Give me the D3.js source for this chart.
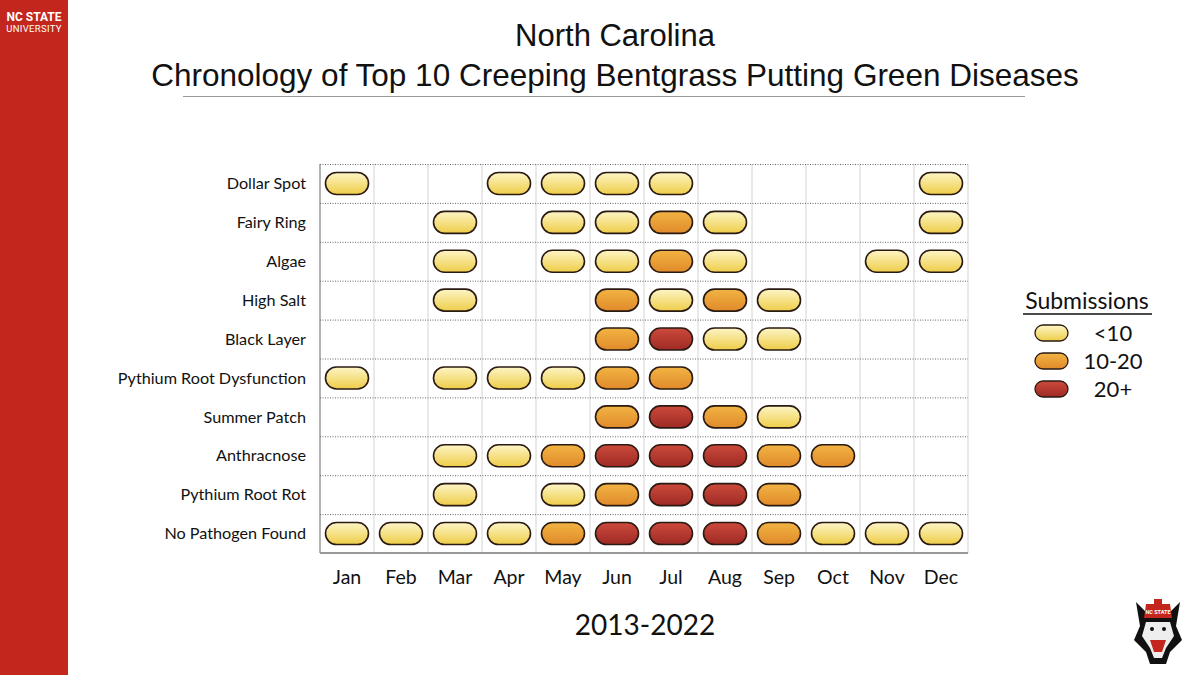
<!DOCTYPE html>
<html>
<head>
<meta charset="utf-8">
<script src="https://cdn.jsdelivr.net/npm/d3@7"></script>
<style>
  html, body { margin: 0; padding: 0; background: #fff; }
  svg { display: block; }
</style>
</head>
<body>
<div id="chart"></div>
<script>
// --------------------------------------
//  Data
// --------------------------------------

const months = ["Jan", "Feb", "Mar", "Apr", "May", "Jun", "Jul", "Aug", "Sep", "Oct", "Nov", "Dec"];

const diseases = ["Dollar Spot", "Fairy Ring", "Algae", "High Salt", "Black Layer",
  "Pythium Root Dysfunction", "Summer Patch", "Anthracnose", "Pythium Root Rot", "No Pathogen Found"];

// 0 = none, 1 = <10, 2 = 10-20, 3 = 20+
const dollarSpot      = [1, 0, 0, 1, 1, 1, 1, 0, 0, 0, 0, 1];
const fairyRing       = [0, 0, 1, 0, 1, 1, 2, 1, 0, 0, 0, 1];
const algae           = [0, 0, 1, 0, 1, 1, 2, 1, 0, 0, 1, 1];
const highSalt        = [0, 0, 1, 0, 0, 2, 1, 2, 1, 0, 0, 0];
const blackLayer      = [0, 0, 0, 0, 0, 2, 3, 1, 1, 0, 0, 0];
const pythiumDysf     = [1, 0, 1, 1, 1, 2, 2, 0, 0, 0, 0, 0];
const summerPatch     = [0, 0, 0, 0, 0, 2, 3, 2, 1, 0, 0, 0];
const anthracnose     = [0, 0, 1, 1, 2, 3, 3, 3, 2, 2, 0, 0];
const pythiumRootRot  = [0, 0, 1, 0, 1, 2, 3, 3, 2, 0, 0, 0];
const noPathogen      = [1, 1, 1, 1, 2, 3, 3, 3, 2, 1, 1, 1];

const levelsByDisease = [dollarSpot, fairyRing, algae, highSalt, blackLayer,
  pythiumDysf, summerPatch, anthracnose, pythiumRootRot, noPathogen];

const legendLabels = ["<10", "10-20", "20+"];

// --------------------------------------
//  Margin and canvas
// --------------------------------------

const width = 1200;
const height = 675;
const margin = {top: 164, right: 232, bottom: 122, left: 320};
const innerWidth = width - margin.left - margin.right;
const innerHeight = height - margin.top - margin.bottom;

const svg = d3.select("#chart")
  .append("svg")
    .attr("width", width)
    .attr("height", height)
    .attr("viewBox", `0 0 ${width} ${height}`);

// gradients for the pills
const defs = svg.append("defs");
const gradStops = [
  ["#fdf5c6", "#eecd48"],
  ["#f2b443", "#e08a2a"],
  ["#cc4a3c", "#9e2a24"]
];
gradStops.forEach((s, i) => {
  const g = defs.append("linearGradient")
      .attr("id", `grad${i + 1}`)
      .attr("x1", 0).attr("y1", 0).attr("x2", 0).attr("y2", 1);
  g.append("stop").attr("offset", "0%").attr("stop-color", s[0]);
  g.append("stop").attr("offset", "100%").attr("stop-color", s[1]);
});

// --------------------------------------
//  Side bar and titles
// --------------------------------------

svg.append("rect")
    .attr("x", 0).attr("y", 0)
    .attr("width", 68).attr("height", height)
    .attr("fill", "#c3261d");

svg.append("text")
    .attr("x", 34).attr("y", 21)
    .attr("text-anchor", "middle")
    .attr("font-family", "Roboto, 'Liberation Sans', sans-serif")
    .attr("font-weight", 700)
    .attr("font-size", 12)
    .attr("fill", "#fff")
    .text("NC STATE");

svg.append("text")
    .attr("x", 34).attr("y", 32)
    .attr("text-anchor", "middle")
    .attr("font-family", "Roboto, 'Liberation Sans', sans-serif")
    .attr("font-size", 9.5)
    .attr("letter-spacing", 0.3)
    .attr("fill", "#fff")
    .text("UNIVERSITY");

svg.append("text")
    .attr("x", 615).attr("y", 46)
    .attr("text-anchor", "middle")
    .attr("font-family", "'Liberation Sans', Arial, sans-serif")
    .attr("font-size", 31)
    .attr("fill", "#111")
    .text("North Carolina");

svg.append("text")
    .attr("x", 615).attr("y", 86)
    .attr("text-anchor", "middle")
    .attr("font-family", "'Liberation Sans', Arial, sans-serif")
    .attr("font-size", 31.5)
    .attr("fill", "#111")
    .text("Chronology of Top 10 Creeping Bentgrass Putting Green Diseases");

svg.append("line")
    .attr("x1", 183).attr("x2", 1025)
    .attr("y1", 96.5).attr("y2", 96.5)
    .attr("stroke", "#999")
    .attr("stroke-width", 1);

// --------------------------------------
//  Scales
// --------------------------------------

const x = d3.scaleBand()
    .domain(months)
    .range([0, innerWidth]);

const y = d3.scaleBand()
    .domain(diseases)
    .range([0, innerHeight]);

const fill = d3.scaleOrdinal()
    .domain([1, 2, 3])
    .range(["url(#grad1)", "url(#grad2)", "url(#grad3)"]);

const innerChart = svg.append("g")
    .attr("transform", `translate(${margin.left}, ${margin.top})`);

// --------------------------------------
//  Grid
// --------------------------------------

// vertical lines
innerChart.append("g")
  .selectAll("line")
  .data(d3.range(months.length + 1))
  .join("line")
    .attr("x1", d => d * x.bandwidth())
    .attr("x2", d => d * x.bandwidth())
    .attr("y1", 0)
    .attr("y2", innerHeight)
    .attr("stroke", d => d === 0 ? "#999" : "#d4d4d4")
    .attr("stroke-width", d => d === 0 ? 1.5 : 1);

// horizontal dotted lines
innerChart.append("g")
  .selectAll("line")
  .data(d3.range(diseases.length))
  .join("line")
    .attr("x1", 0)
    .attr("x2", innerWidth)
    .attr("y1", d => d * y.bandwidth() + 0.5)
    .attr("y2", d => d * y.bandwidth() + 0.5)
    .attr("stroke", "#666")
    .attr("stroke-width", 1)
    .attr("stroke-dasharray", "1,1.5");

// bottom line
innerChart.append("line")
    .attr("x1", 0).attr("x2", innerWidth)
    .attr("y1", innerHeight).attr("y2", innerHeight)
    .attr("stroke", "#999")
    .attr("stroke-width", 2);

// --------------------------------------
//  Axis labels
// --------------------------------------

innerChart.append("g")
  .selectAll("text")
  .data(diseases)
  .join("text")
    .attr("x", -14)
    .attr("y", d => y(d) + y.bandwidth() / 2)
    .attr("dy", "0.35em")
    .attr("text-anchor", "end")
    .attr("font-family", "Lato, 'Open Sans', sans-serif")
    .attr("font-size", 16.2)
    .attr("fill", "#111")
    .text(d => d);

innerChart.append("g")
  .selectAll("text")
  .data(months)
  .join("text")
    .attr("x", d => x(d) + x.bandwidth() / 2)
    .attr("y", innerHeight + 31)
    .attr("text-anchor", "middle")
    .attr("font-family", "Lato, 'Open Sans', sans-serif")
    .attr("font-size", 19.5)
    .attr("fill", "#111")
    .text(d => d);

svg.append("text")
    .attr("x", 645).attr("y", 635)
    .attr("text-anchor", "middle")
    .attr("font-family", "Lato, 'Open Sans', sans-serif")
    .attr("font-size", 28)
    .attr("fill", "#111")
    .text("2013-2022");

// --------------------------------------
//  Pills
// --------------------------------------

const cells = [];
diseases.forEach((dis, i) => {
  levelsByDisease[i].forEach((lvl, j) => {
    if (lvl > 0) cells.push({disease: dis, month: months[j], level: lvl});
  });
});

const pillW = 43;
const pillH = 22;

innerChart.append("g")
  .selectAll("rect")
  .data(cells)
  .join("rect")
    .attr("x", d => x(d.month) + x.bandwidth() / 2 - pillW / 2)
    .attr("y", d => y(d.disease) + y.bandwidth() / 2 - pillH / 2)
    .attr("width", pillW)
    .attr("height", pillH)
    .attr("rx", pillH / 2)
    .attr("fill", d => fill(d.level))
    .attr("stroke", "#2a1a12")
    .attr("stroke-width", 1.6);

// --------------------------------------
//  Legend
// --------------------------------------

const legend = svg.append("g");

legend.append("text")
    .attr("x", 1087).attr("y", 309)
    .attr("text-anchor", "middle")
    .attr("font-family", "Lato, 'Open Sans', sans-serif")
    .attr("font-size", 23)
    .attr("fill", "#111")
    .text("Submissions");

legend.append("line")
    .attr("x1", 1023).attr("x2", 1152)
    .attr("y1", 314).attr("y2", 314)
    .attr("stroke", "#111")
    .attr("stroke-width", 1.5);

const legendItems = legend.selectAll(".legend-item")
  .data([1, 2, 3])
  .join("g")
    .attr("class", "legend-item")
    .attr("transform", (d, i) => `translate(0, ${333 + i * 28})`);

legendItems.append("rect")
    .attr("x", 1035).attr("y", -8)
    .attr("width", 33).attr("height", 16)
    .attr("rx", 8)
    .attr("fill", d => fill(d))
    .attr("stroke", "#2a1a12")
    .attr("stroke-width", 1.3);

legendItems.append("text")
    .attr("x", 1113).attr("y", 8)
    .attr("text-anchor", "middle")
    .attr("font-family", "Lato, 'Open Sans', sans-serif")
    .attr("font-size", 22)
    .attr("fill", "#111")
    .text((d, i) => legendLabels[i]);

// --------------------------------------
//  Wolf logo (rough)
// --------------------------------------

const logo = svg.append("g").attr("transform", "translate(1158, 632)");
logo.append("path")
    .attr("d", "M-22,-30 L-12,-20 L-8,-28 L8,-28 L12,-20 L22,-30 L18,-6 L24,8 L12,20 L8,32 L-8,32 L-12,20 L-24,8 L-18,-6 Z")
    .attr("fill", "#111");
logo.append("path")
    .attr("d", "M-12,-10 L12,-10 L16,4 L8,16 L4,26 L-4,26 L-8,16 L-16,4 Z")
    .attr("fill", "#eee");
logo.append("path")
    .attr("d", "M-12,-28 L12,-28 L14,-14 L-14,-14 Z")
    .attr("fill", "#c3261d");
logo.append("rect")
    .attr("x", -4).attr("y", -33).attr("width", 8).attr("height", 5)
    .attr("fill", "#c3261d");
logo.append("text")
    .attr("x", 0).attr("y", -18)
    .attr("text-anchor", "middle")
    .attr("font-family", "Roboto, sans-serif")
    .attr("font-weight", 700)
    .attr("font-size", 5.5)
    .attr("fill", "#fff")
    .text("NC STATE");
logo.append("path")
    .attr("d", "M-8,8 L8,8 L4,20 L-4,20 Z")
    .attr("fill", "#c3261d");
logo.append("circle").attr("cx", -6).attr("cy", -3).attr("r", 2).attr("fill", "#111");
logo.append("circle").attr("cx", 6).attr("cy", -3).attr("r", 2).attr("fill", "#111");
</script>
</body>
</html>
